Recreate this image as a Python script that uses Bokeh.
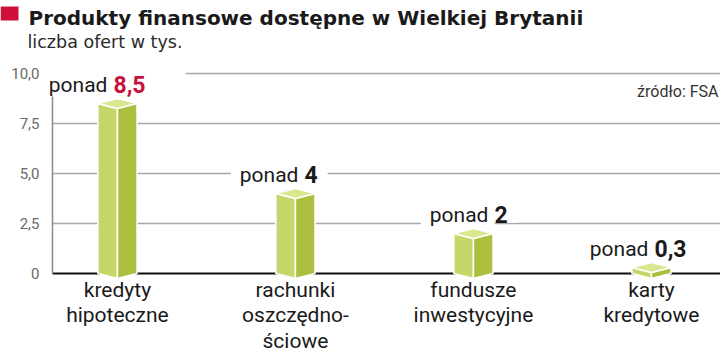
from bokeh.plotting import figure
from bokeh.models import Range1d, FixedTicker, Label, BoxAnnotation, ColumnDataSource
from bokeh.core.properties import value
from bokeh.embed import file_html
from bokeh.resources import INLINE

# ---- data ----
categories = ["kredyty\nhipoteczne", "rachunki\noszczędno-\nściowe",
              "fundusze\ninwestycyjne", "karty\nkredytowe"]
values = [8.5, 4.0, 2.0, 0.3]
value_labels = ["8,5", "4", "2", "0,3"]
value_colors = ["#c8103c", "#1a1a1a", "#1a1a1a", "#1a1a1a"]
y_ticks = [0, 2.5, 5, 7.5, 10]
y_tick_labels = ["0", "2,5", "5,0", "7,5", "10,0"]
title = "Produkty finansowe dostępne w Wielkiej Brytanii"
subtitle = "liczba ofert w tys."
source_note = "źródło: FSA"

FONT = "Roboto"
positions = list(range(len(categories)))
label_shift = [-7, 6, 18, 0]   # px nudges for the "ponad" labels
label_pad_left = [2, 9, 9, 9]
label_pad_right = [40, 10, 10, 10]
INNER_PAD = 6

X0, X1 = -0.657, 3.388          # full canvas width in category units
AXIS_X = -0.365                 # where the value axis sits

p = figure(width=720, height=353, output_backend="svg", toolbar_location=None,
           x_range=Range1d(X0, X1), y_range=Range1d(-4.0, 13.65),
           x_axis_location=None, min_border=0)
p.outline_line_color = None
p.background_fill_color = "white"
p.border_fill_color = "white"

# value axis
ax = p.yaxis[0]
ax.fixed_location = AXIS_X
ax.ticker = FixedTicker(ticks=y_ticks)
ax.major_label_overrides = {t: l for t, l in zip(y_ticks, y_tick_labels)}
ax.bounds = (0, 10)
ax.axis_line_color = "#8a8a8a"
ax.axis_line_width = 1.5
ax.major_tick_line_color = None
ax.minor_tick_line_color = None
ax.major_label_text_font = FONT
ax.major_label_text_font_size = "15px"
ax.major_label_text_color = "#6a6a6a"
ax.major_label_standoff = 7

# grid lines (from the value axis to the right edge)
p.xgrid.grid_line_color = None
grid_ok = False
try:
    p.ygrid.cross_bounds = (AXIS_X, X1)
    p.ygrid.ticker = FixedTicker(ticks=y_ticks[1:])
    p.ygrid.grid_line_color = "#a8a8a8"
    p.ygrid.grid_line_width = 1.4
    grid_ok = True
except Exception:
    p.ygrid.grid_line_color = None
if not grid_ok:
    p.segment(x0=[AXIS_X] * 4, y0=y_ticks[1:], x1=[X1] * 4, y1=y_ticks[1:],
              line_color="#a8a8a8", line_width=1.4)

# zero line
p.segment(x0=[AXIS_X], y0=[0], x1=[X1], y1=[0], line_color="#111111", line_width=2)

# 3D-ish bars
hw = 0.11   # half width in x units
d = 0.25    # rhombus depth in y units
lx, ly, rx, ry, tx, ty = [], [], [], [], [], []
for c, v in zip(positions, values):
    lx.append([c - hw, c, c, c - hw]); ly.append([v, v - d, -d, 0])
    rx.append([c, c + hw, c + hw, c]); ry.append([v - d, v, 0, -d])
    tx.append([c - hw, c, c + hw, c]); ty.append([v, v + d, v, v - d])
p.patches(lx, ly, fill_color="#c6d76a", line_color="white", line_width=1.5)
p.patches(rx, ry, fill_color="#aebf3f", line_color="white", line_width=1.5)
p.patches(tx, ty, fill_color="#dbe78f", line_color="white", line_width=1.5)

# value labels
for c, v, vl, vc, sh, pl, pr in zip(positions, values, value_labels, value_colors,
                                    label_shift, label_pad_left, label_pad_right):
    p.add_layout(Label(x=c, y=v, x_offset=sh - 3 + INNER_PAD, y_offset=22, text="ponad",
                       text_align="right", text_baseline="alphabetic",
                       text_font=FONT, text_font_size="21px", text_color="#1a1a1a",
                       background_fill_color="white",
                       padding=dict(left=pl, right=INNER_PAD, top=6, bottom=0)))
    p.add_layout(Label(x=c, y=v, x_offset=sh + 3 - INNER_PAD, y_offset=22, text=vl,
                       text_align="left", text_baseline="alphabetic",
                       text_font=FONT, text_font_size="23px", text_font_style="bold",
                       text_color=vc, background_fill_color="white",
                       padding=dict(left=INNER_PAD, right=pr, top=6, bottom=0)))

# category labels
src = ColumnDataSource(dict(x=positions, y=[0] * len(positions), t=categories))
p.text(x="x", y="y", text="t", source=src, text_align="center", text_baseline="top",
       y_offset=4, text_font=value(FONT), text_font_size="21px", text_color="#1a1a1a",
       text_line_height=1.08)

# title block (screen units measured from the canvas' bottom-left corner)
p.add_layout(BoxAnnotation(left=0, right=18, bottom=333, top=347,
                           left_units="screen", right_units="screen",
                           bottom_units="screen", top_units="screen",
                           fill_color="#d0103a", fill_alpha=1, line_color=None))
p.add_layout(Label(x=28, y=336, x_units="screen", y_units="screen", text=title,
                   text_font="DejaVu Sans", text_font_size="20px", text_font_style="bold",
                   text_color="#1a1a1a", text_baseline="alphabetic"))
p.add_layout(Label(x=27, y=312, x_units="screen", y_units="screen", text=subtitle,
                   text_font="DejaVu Sans", text_font_size="17.5px", text_color="#2a2a2a",
                   text_baseline="alphabetic"))
p.add_layout(Label(x=718, y=262, x_units="screen", y_units="screen", text=source_note,
                   text_font=FONT, text_font_size="16px", text_color="#333333",
                   text_align="right", text_baseline="alphabetic"))

open("out.html", "w").write(file_html(p, INLINE))
